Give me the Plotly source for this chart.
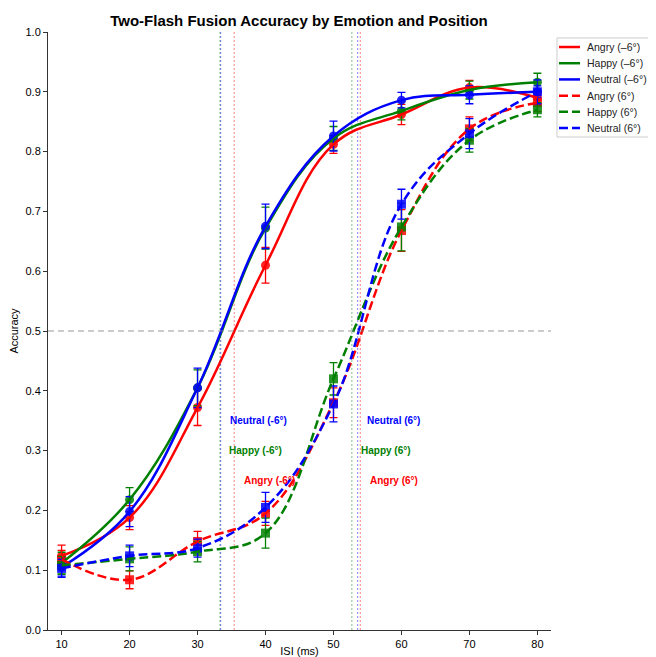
import plotly.graph_objects as go

isi = [10, 20, 30, 40, 50, 60, 70, 80]

angry_m6 = [0.124, 0.188, 0.372, 0.610, 0.812, 0.862, 0.907, 0.890]
happy_m6 = [0.112, 0.218, 0.405, 0.672, 0.822, 0.868, 0.903, 0.916]
neutral_m6 = [0.105, 0.198, 0.405, 0.675, 0.826, 0.886, 0.895, 0.900]
angry_p6 = [0.118, 0.084, 0.148, 0.195, 0.380, 0.668, 0.838, 0.882]
happy_p6 = [0.108, 0.119, 0.131, 0.162, 0.420, 0.674, 0.819, 0.870]
neutral_p6 = [0.103, 0.124, 0.137, 0.205, 0.378, 0.712, 0.830, 0.900]

err_angry_m6 = [0.018, 0.02, 0.03, 0.03, 0.015, 0.017, 0.012, 0.012]
err_happy_m6 = [0.018, 0.02, 0.03, 0.035, 0.02, 0.015, 0.015, 0.015]
err_neutral_m6 = [0.015, 0.025, 0.033, 0.037, 0.025, 0.013, 0.015, 0.01]
err_angry_p6 = [0.015, 0.015, 0.017, 0.02, 0.025, 0.035, 0.02, 0.015]
err_happy_p6 = [0.015, 0.02, 0.017, 0.025, 0.027, 0.04, 0.02, 0.012]
err_neutral_p6 = [0.015, 0.018, 0.015, 0.025, 0.03, 0.025, 0.025, 0.02]

# 50% thresholds (drawn in this order)
thresholds = {
    "Happy (-6°)": 33.3, "Neutral (-6°)": 33.4, "Angry (-6°)": 35.4,
    "Happy (6°)": 52.7, "Neutral (6°)": 53.55, "Angry (6°)": 53.95,
}
label_y = {"Neutral": 0.35, "Happy": 0.30, "Angry": 0.25}

RED, GREEN, BLUE = "#ff0000", "#008000", "#0000ff"
colors = {"Angry": RED, "Happy": GREEN, "Neutral": BLUE}

series = [
    ("Angry (–6°)", angry_m6, err_angry_m6, RED, "solid", "circle"),
    ("Happy (–6°)", happy_m6, err_happy_m6, GREEN, "solid", "circle"),
    ("Neutral (–6°)", neutral_m6, err_neutral_m6, BLUE, "solid", "circle"),
    ("Angry (6°)", angry_p6, err_angry_p6, RED, "9px,4px", "square"),
    ("Happy (6°)", happy_p6, err_happy_p6, GREEN, "9px,4px", "square"),
    ("Neutral (6°)", neutral_p6, err_neutral_p6, BLUE, "9px,4px", "square"),
]

fig = go.Figure()

for name, thr in thresholds.items():
    emo = name.split(" ")[0]
    fig.add_shape(type="line", x0=thr, x1=thr, y0=0, y1=1, xref="x", yref="y",
                  line=dict(color=colors[emo], width=1.2, dash="2px,2px"), opacity=0.4, layer="below")

fig.add_shape(type="line", x0=0, x1=1, xref="paper", y0=0.5, y1=0.5, yref="y",
              line=dict(color="gray", width=1.2, dash="6px,4px"), opacity=0.8)

for name, vals, errs, col, dash, sym in series:
    fig.add_trace(go.Scatter(
        x=isi, y=vals, mode="markers", showlegend=False, hoverinfo="skip",
        marker=dict(color=col, symbol=sym, size=9, opacity=0.85),
        error_y=dict(type="data", array=errs, color=col, thickness=1.3, width=4),
    ))

for name, vals, errs, col, dash, sym in series:
    fig.add_trace(go.Scatter(
        x=isi, y=vals, mode="lines", name=name, showlegend=False,
        line=dict(color=col, width=2.5, dash=dash, shape="spline", smoothing=1.1),
    ))

for name, thr in thresholds.items():
    emo = name.split(" ")[0]
    fig.add_annotation(x=thr + 1.1, y=label_y[emo], text="<b>" + name + "</b>",
                       showarrow=False, xanchor="left", yanchor="middle",
                       font=dict(color=colors[emo], size=10))

# legend box (outside the plot, right side) drawn in paper coordinates
leg_x0, leg_x1 = 1.0119, 1.25
leg_y0, leg_y1 = 0.8244, 0.990
fig.add_shape(type="rect", xref="paper", yref="paper", x0=leg_x0, x1=leg_x1,
              y0=leg_y0, y1=leg_y1, line=dict(color="#cccccc", width=1),
              fillcolor="rgba(255,255,255,0.8)")
row_top, row_step = 0.9749, 0.0271
for i, (name, vals, errs, col, dash, sym) in enumerate(series):
    yy = row_top - i * row_step
    fig.add_shape(type="line", xref="paper", yref="paper", x0=1.0159, x1=1.0577,
                  y0=yy, y1=yy, line=dict(color=col, width=2.5, dash=dash))
    fig.add_annotation(xref="paper", yref="paper", x=1.068, y=yy, text=name,
                       showarrow=False, xanchor="left", yanchor="middle",
                       font=dict(color="#222222", size=10.5))

# the page body adds an 8px offset; margins compensate for it
fig.update_layout(
    width=656, height=649,
    margin=dict(l=40, r=113, t=24, b=27, autoexpand=False),
    plot_bgcolor="white", paper_bgcolor="white",
    showlegend=False,
    font=dict(family="Liberation Sans, Arial, sans-serif", size=11, color="black"),
    title=dict(text="<b>Two-Flash Fusion Accuracy by Emotion and Position</b>",
               x=0.4436, xanchor="center", y=0.988, yanchor="top",
               font=dict(size=15)),
    xaxis=dict(range=[8, 82], tickvals=isi, showgrid=False, zeroline=False,
               showline=True, linecolor="#333", linewidth=1, ticks="outside",
               ticklen=4, tickcolor="#333", automargin=False,
               title=dict(text="ISI (ms)", standoff=7, font=dict(size=11))),
    yaxis=dict(range=[0, 1], dtick=0.1, tickformat=".1f", showgrid=False, zeroline=False,
               showline=True, linecolor="#333", linewidth=1, ticks="outside",
               ticklen=4, tickcolor="#333", automargin=False,
               title=dict(text="Accuracy", standoff=10, font=dict(size=11))),
)

fig.write_html("out.html")
